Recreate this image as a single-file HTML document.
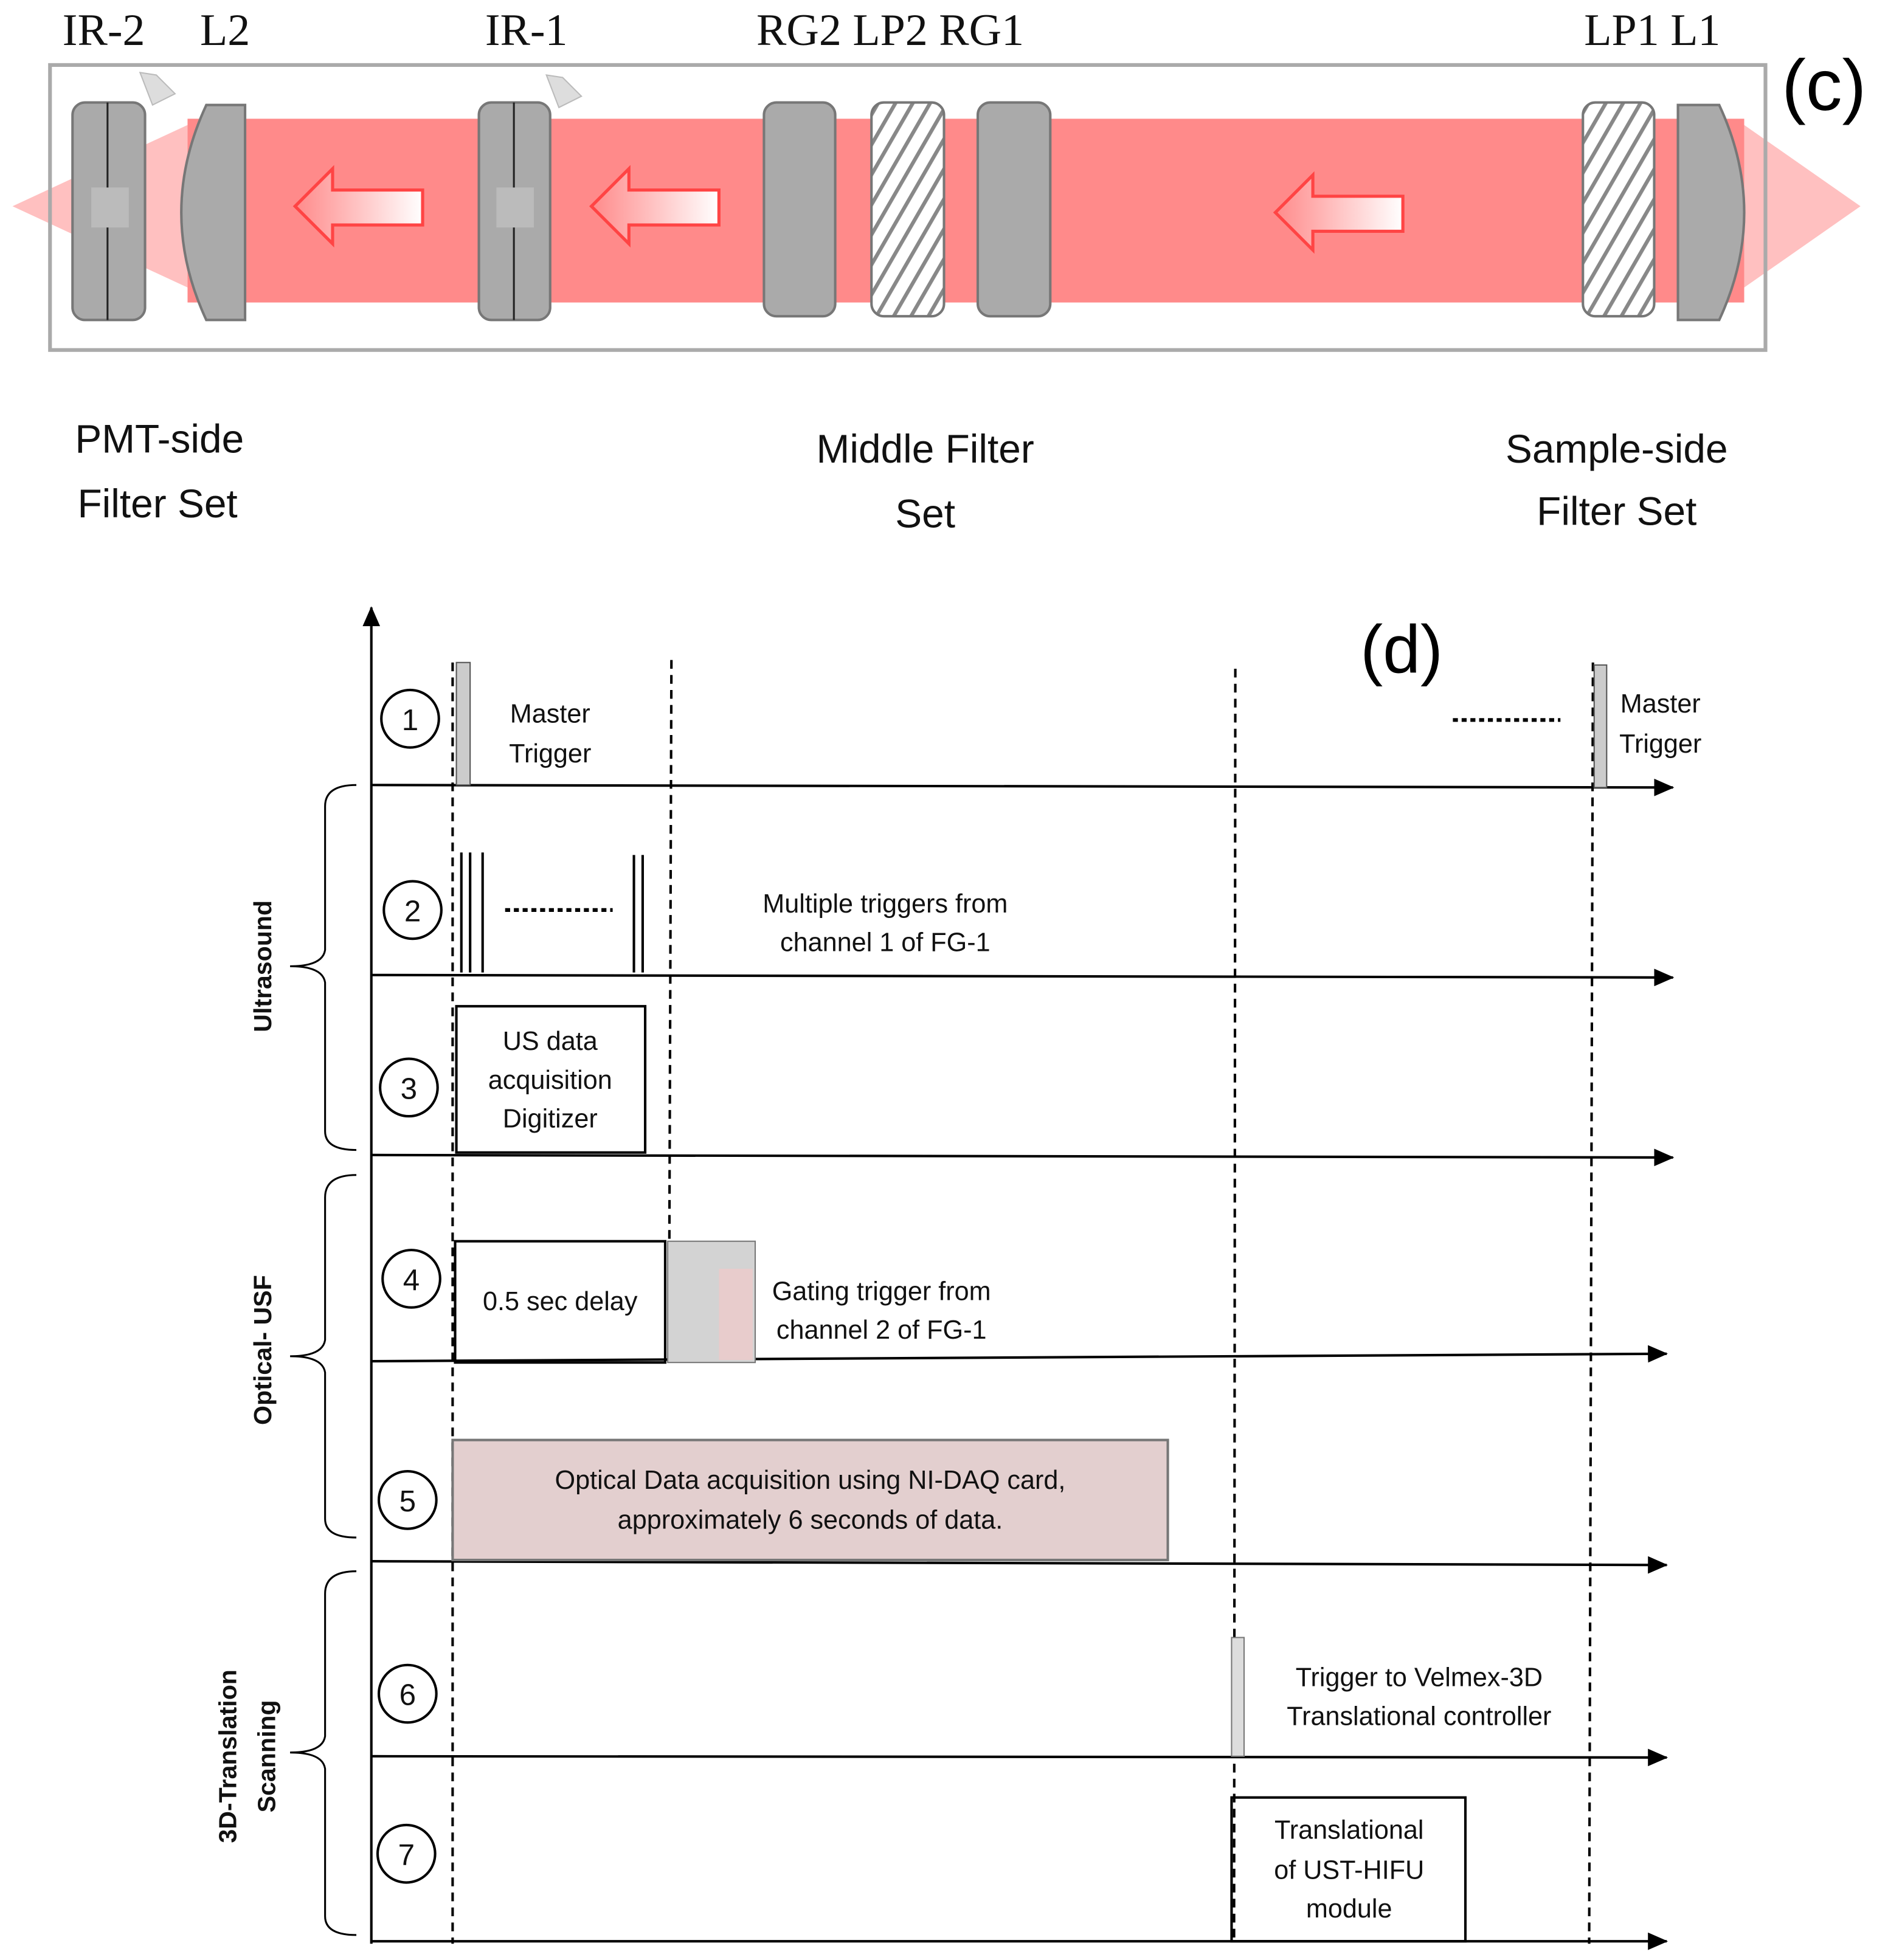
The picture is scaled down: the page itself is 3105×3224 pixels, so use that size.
<!DOCTYPE html>
<html><head><meta charset="utf-8"><style>
html,body{margin:0;padding:0;background:#fff;}
svg{display:block;}
.t{font-family:"Liberation Sans",sans-serif;font-size:21px;fill:#111;}
.s{font-family:"Liberation Serif",serif;font-size:36px;fill:#111;}
.b{font-family:"Liberation Sans",sans-serif;font-size:32px;fill:#111;}
</style></head><body>
<svg width="3105" height="3224" viewBox="0 0 1510 1568" preserveAspectRatio="none" xmlns="http://www.w3.org/2000/svg">
<defs>
<pattern id="h" width="12" height="12" patternUnits="userSpaceOnUse" patternTransform="rotate(30)">
<rect width="12" height="12" fill="#fff"/><rect width="3" height="12" fill="#888"/></pattern>
<linearGradient id="ag" x1="0" x2="1"><stop offset="0" stop-color="#ff8a8a"/><stop offset="1" stop-color="#fff"/></linearGradient>
<marker id="ar" markerWidth="16" markerHeight="14" refX="15" refY="7" orient="auto" markerUnits="userSpaceOnUse"><path d="M0,0 L16,7 L0,14z" fill="#000"/></marker>
</defs>
<!-- (c) -->
<polygon points="10,165 150,100 150,230" fill="#ffc0c0"/>
<polygon points="1488,165 1395,100 1395,230" fill="#ffc0c0"/>
<rect x="150" y="95" width="1245" height="147" fill="#ff8a8a"/>
<rect x="40" y="52" width="1372" height="228" fill="none" stroke="#aaa" stroke-width="3"/>
<g fill="#aaa" stroke="#777" stroke-width="2">
<rect x="58" y="82" width="58" height="174" rx="10"/>
<rect x="383" y="82" width="57" height="174" rx="10"/>
<rect x="611" y="82" width="57" height="171" rx="10"/>
<rect x="782" y="82" width="58" height="171" rx="10"/>
<path d="M196,84 L165,84 Q125,170 165,256 L196,256z"/>
<path d="M1342,84 L1375,84 Q1415,170 1375,256 L1342,256z"/>
</g>
<rect x="697" y="82" width="58" height="171" rx="10" fill="url(#h)" stroke="#777" stroke-width="2"/>
<rect x="1266" y="82" width="57" height="171" rx="10" fill="url(#h)" stroke="#777" stroke-width="2"/>
<line x1="86" y1="82" x2="86" y2="256" stroke="#222" stroke-width="1.5"/>
<line x1="411" y1="82" x2="411" y2="256" stroke="#222" stroke-width="1.5"/>
<rect x="73" y="150" width="30" height="32" fill="#bbb"/><rect x="397" y="150" width="30" height="32" fill="#bbb"/>
<polygon points="112,58 125,60 140,75 122,84" fill="#ddd" stroke="#bbb"/>
<polygon points="437,60 450,62 465,77 447,86" fill="#ddd" stroke="#bbb"/>
<g fill="url(#ag)" stroke="#f44" stroke-width="2.5">
<path d="M236,165 L266,135 L266,152 L338,152 L338,180 L266,180 L266,195z"/>
<path d="M473,165 L503,135 L503,152 L575,152 L575,180 L503,180 L503,195z"/>
<path d="M1020,170 L1050,140 L1050,157 L1122,157 L1122,185 L1050,185 L1050,200z"/>
</g>
<text class="s" x="50" y="36">IR-2</text><text class="s" x="160" y="36">L2</text>
<text class="s" x="388" y="36">IR-1</text><text class="s" x="605" y="36">RG2 LP2 RG1</text>
<text class="s" x="1267" y="36">LP1 L1</text>
<text x="1425" y="88" style="font-family:'Liberation Sans',sans-serif;font-size:58px">(c)</text>
<text class="b" x="60" y="362">PMT-side</text><text class="b" x="62" y="414">Filter Set</text>
<text class="b" x="740" y="370" text-anchor="middle">Middle Filter</text><text class="b" x="740" y="422" text-anchor="middle">Set</text>
<text class="b" x="1293" y="370" text-anchor="middle">Sample-side</text><text class="b" x="1293" y="420" text-anchor="middle">Filter Set</text>
<!-- (d) -->
<g stroke="#000" stroke-width="2" fill="none">
<line x1="297" y1="1555" x2="297" y2="486" marker-end="url(#ar)"/>
<line x1="297" y1="628" x2="1338" y2="630" marker-end="url(#ar)"/>
<line x1="297" y1="780" x2="1338" y2="782" marker-end="url(#ar)"/>
<line x1="297" y1="924" x2="1338" y2="926" marker-end="url(#ar)"/>
<line x1="297" y1="1089" x2="1333" y2="1083" marker-end="url(#ar)"/>
<line x1="297" y1="1249" x2="1333" y2="1252" marker-end="url(#ar)"/>
<line x1="297" y1="1405" x2="1333" y2="1406" marker-end="url(#ar)"/>
<line x1="297" y1="1553" x2="1333" y2="1553" marker-end="url(#ar)"/>
<g stroke-dasharray="7,5">
<line x1="362" y1="530" x2="362" y2="1555"/><line x1="537" y1="528" x2="535" y2="1090"/>
<line x1="988" y1="535" x2="987" y2="1555"/><line x1="1274" y1="530" x2="1271" y2="1555"/>
</g>
<g stroke-dasharray="4,3" stroke-width="3"><line x1="404" y1="728" x2="490" y2="728"/><line x1="1162" y1="576" x2="1248" y2="576"/></g>
<circle cx="328" cy="575" r="23"/><circle cx="330" cy="728" r="23"/><circle cx="327" cy="870" r="23"/>
<circle cx="329" cy="1023" r="23"/><circle cx="326" cy="1200" r="23"/><circle cx="326" cy="1355" r="23"/><circle cx="325" cy="1483" r="23"/>
<line x1="369" y1="682" x2="369" y2="778"/><line x1="376" y1="682" x2="376" y2="778"/><line x1="386" y1="682" x2="386" y2="778"/>
<line x1="507" y1="684" x2="507" y2="778"/><line x1="514" y1="684" x2="514" y2="778"/>
<rect x="365" y="805" width="151" height="117"/>
<rect x="364" y="993" width="168" height="97"/>
<rect x="985" y="1438" width="187" height="115"/>
<path d="M285,628 Q260,628 260,645 L260,760 Q258,773 232,773 Q258,773 260,786 L260,905 Q260,920 285,920" stroke-width="1.5"/>
<path d="M285,940 Q260,940 260,958 L260,1072 Q258,1085 232,1085 Q258,1085 260,1098 L260,1215 Q260,1230 285,1230" stroke-width="1.5"/>
<path d="M285,1257 Q260,1257 260,1275 L260,1389 Q258,1402 232,1402 Q258,1402 260,1415 L260,1533 Q260,1548 285,1548" stroke-width="1.5"/>
</g>
<rect x="365" y="530" width="11" height="98" fill="#ccc" stroke="#555"/>
<rect x="1275" y="532" width="10" height="98" fill="#ccc" stroke="#555"/>
<rect x="985" y="1310" width="10" height="95" fill="#ddd" stroke="#777"/>
<rect x="534" y="993" width="70" height="97" fill="#d3d3d3" stroke="#777"/>
<rect x="575" y="1015" width="27" height="73" fill="#e8cccc"/>
<rect x="362" y="1152" width="572" height="96" fill="#e3cfcf" stroke="#777" stroke-width="2"/>
<g class="t" style="font-size:24px" text-anchor="middle">
<text x="328" y="584">1</text><text x="330" y="737">2</text><text x="327" y="879">3</text><text x="329" y="1032">4</text>
<text x="326" y="1209">5</text><text x="326" y="1364">6</text><text x="325" y="1492">7</text></g>
<g class="t" text-anchor="middle">
<text x="440" y="578">Master</text><text x="440" y="610">Trigger</text>
<text x="1328" y="570">Master</text><text x="1328" y="602">Trigger</text>
<text x="708" y="730">Multiple triggers from</text><text x="708" y="761">channel 1 of FG-1</text>
<text x="440" y="840">US data</text><text x="440" y="871">acquisition</text><text x="440" y="902">Digitizer</text>
<text x="448" y="1048">0.5 sec delay</text>
<text x="705" y="1040">Gating trigger from</text><text x="705" y="1071">channel 2 of FG-1</text>
<text x="648" y="1191">Optical Data acquisition using NI-DAQ card,</text><text x="648" y="1223">approximately 6 seconds of data.</text>
<text x="1135" y="1349">Trigger to Velmex-3D</text><text x="1135" y="1380">Translational controller</text>
<text x="1079" y="1471">Translational</text><text x="1079" y="1503">of UST-HIFU</text><text x="1079" y="1534">module</text>
</g>
<g class="t" style="font-weight:bold;font-size:20px" text-anchor="middle">
<text transform="translate(217,773) rotate(-90)">Ultrasound</text>
<text transform="translate(217,1080) rotate(-90)">Optical- USF</text>
<text transform="translate(189,1405) rotate(-90)">3D-Translation</text>
<text transform="translate(220,1405) rotate(-90)">Scanning</text>
</g>
<text x="1088" y="538" style="font-family:'Liberation Sans',sans-serif;font-size:54px">(d)</text>
</svg>
</body></html>
